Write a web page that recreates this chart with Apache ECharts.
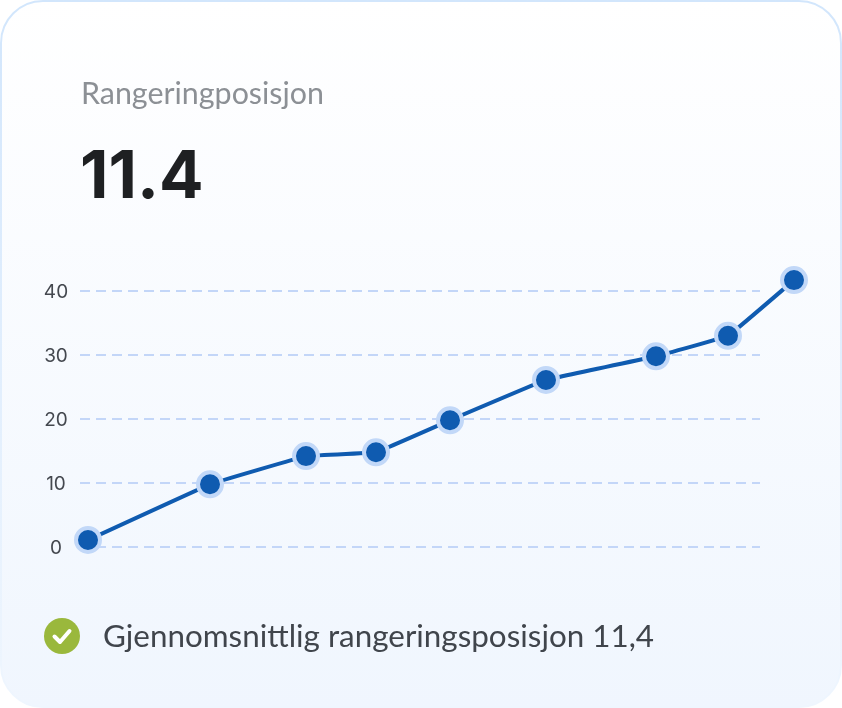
<!DOCTYPE html>
<html><head><meta charset="utf-8">
<style>html,body{margin:0;padding:0;background:#fff}#c{width:842px;height:708px}</style>
<script src="https://cdn.jsdelivr.net/npm/echarts@6/dist/echarts.min.js"></script>
</head><body><div id="c"></div>
<script>
const xValues = [8, 130, 226, 296, 370, 466, 576, 648, 714];
const rankValues = [1.1, 9.8, 14.2, 14.8, 19.8, 26.1, 29.8, 33, 41.7];
const yTicks = [0, 10, 20, 30, 40];
const titleText = 'Rangeringposisjon';
const bigValue = '11.4';
const noteText = 'Gjennomsnittlig rangeringsposisjon 11,4';

const chart = echarts.init(document.getElementById('c'), null, {renderer: 'canvas'});
chart.setOption({
  animation: false,
  backgroundColor: '#fff',
  grid: [
    {left: 80, width: 680, top: 291, height: 256},
    {left: 40, width: 800, top: 227, height: 384}
  ],
  xAxis: [
    {gridIndex: 0, type: 'value', min: 0, max: 680, show: false},
    {gridIndex: 1, type: 'value', min: -40, max: 760, show: false}
  ],
  yAxis: [
    {gridIndex: 0, type: 'value', min: 0, max: 40, interval: 10,
     axisLine: {show: false}, axisTick: {show: false},
     axisLabel: {margin: 24, align: 'center', verticalAlign: 'top', lineHeight: 3, color: '#44484f', fontSize: 19, fontFamily: 'Inter', fontWeight: 400,
       formatter: v => yTicks.includes(v) ? String(v) : ''},
     splitLine: {show: true, lineStyle: {color: '#c3d6f8', width: 2, type: [10, 6]}}},
    {gridIndex: 1, type: 'value', min: -10, max: 50, show: false}
  ],
  graphic: [
    {type: 'rect', z: -10, silent: true,
     shape: {x: 1, y: 1, width: 840, height: 706, r: 42},
     style: {
       stroke: new echarts.graphic.LinearGradient(0, 0, 0, 1, [
         {offset: 0, color: '#d2e6fc'}, {offset: 1, color: '#eff6fe'}]),
       lineWidth: 2,
       fill: new echarts.graphic.LinearGradient(0, 0, 0, 1, [
         {offset: 0, color: '#ffffff'}, {offset: 1, color: '#f0f6fe'}])}},
    {type: 'text', left: 81, top: 79, silent: true,
     style: {text: titleText, fill: '#8c9095', font: '400 30.4px "Lato"'}},
    {type: 'text', left: 80, top: 145, silent: true,
     style: {text: bigValue, fill: '#1e2022', font: '700 66px "Inter"'}},
    {type: 'circle', silent: true, shape: {cx: 62, cy: 636, r: 18}, style: {fill: '#9ab83c'}},
    {type: 'polyline', silent: true, shape: {points: [[54.5, 636.5], [60, 642], [69.5, 631]]},
     style: {stroke: '#fff', lineWidth: 4, fill: null, lineCap: 'round', lineJoin: 'round'}},
    {type: 'text', left: 103, top: 621, silent: true,
     style: {text: noteText, fill: '#40454c', font: '400 31.4px "Lato"'}}
  ],
  series: [{
    type: 'line', xAxisIndex: 1, yAxisIndex: 1, smooth: 0.05,
    data: xValues.map((x, i) => [x, rankValues[i]]),
    symbol: 'circle', symbolSize: 24,
    lineStyle: {color: '#0f5bb0', width: 4},
    itemStyle: {color: '#0f5bb0', borderColor: '#c2d8f8', borderWidth: 4}
  }, {
    type: 'line', xAxisIndex: 0, yAxisIndex: 0, data: [], silent: true
  }]
});
</script></body></html>
